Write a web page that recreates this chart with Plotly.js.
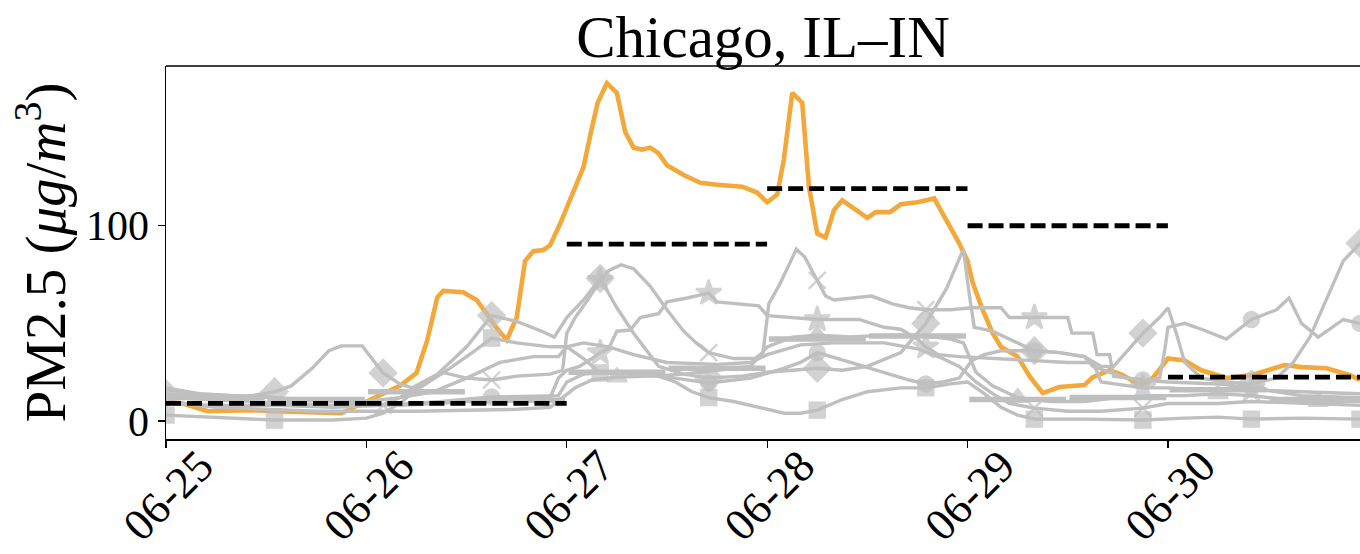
<!DOCTYPE html>
<html>
<head>
<meta charset="utf-8">
<script src="https://cdn.plot.ly/plotly-3.0.1.min.js"></script>
<style>html,body{margin:0;padding:0;overflow:hidden;background:#fff;}#chart{width:1360px;height:554px;}</style>
</head>
<body>
<div id="chart"></div>
<script>
// ---- data (hours since 2023-06-25 00:00, PM2.5 in ug/m3) ----
const dayLabels = ['06-25','06-26','06-27','06-28','06-29','06-30'];
const yTicks = [0, 100];

const chicago = [[0,10],[2,9],[5,5],[8,5.5],[10,5.6],[13,5],[16,4.5],[19,4],[21,4],[24,10],[26,14],[28,18],[30,24.6],[31.3,41.5],[32.5,63.5],[33.2,66.6],[35.6,66],[37.2,62],[38.4,55],[39.6,47.6],[40.8,41.5],[42,53],[43,82],[44,87],[45.2,87.6],[46,90],[47.2,101],[48.7,117],[50,130],[51,150],[51.7,163],[52.8,173],[54,168],[55,148],[56,140],[57,139],[58,140],[59,137],[60,131],[62,126],[64,122],[66,121],[68,120],[69,120],[70.8,117],[72,112],[73.2,116],[74,134],[75,168],[76.2,163],[77,120],[78,96],[79,94],[80,108],[81,113],[82.3,109],[84,104],[85,107],[86.7,107],[88,111],[90,112],[92,114],[93.5,103],[95,91],[96,82],[96.6,71],[97.8,57],[99,45],[100,38],[102,33],[103.5,22.5],[105,14.3],[107,17.4],[110,18.4],[111,22.5],[113,26],[114.6,23.5],[116.6,18.4],[118,21],[120,32],[122,31],[124,26],[127,22],[130,23.5],[134,28.7],[136,27.6],[139,27],[141.8,23.5],[143,21]];

const cityDiamond = [[0,14],[4,12],[9,12],[13,15],[15,18],[17.5,27],[19.5,36],[21,38.5],[23.5,38.5],[24.5,33],[26,24.6],[28,19],[29.5,17],[32.5,24],[36,38],[39,54],[42,51],[45,46],[46.5,43],[48,53],[50,62],[52,73],[54,58],[56,45],[59,28],[62,24],[65,22],[69,23],[72,25],[75,26],[78,27],[81,26],[84,28],[88,35],[91,50],[93.5,68],[95.5,88],[96.2,65],[96.8,48],[99,46],[101,42],[104,36],[107,35],[110,33],[112,28],[113.5,28],[117,45],[119,53],[120,58],[121,45],[122,30],[124,22],[127,20],[130,19],[133,22],[135,30],[137,43],[139,63],[141,82],[143,91]];
const cityX = [[0,12],[5,11],[10,10],[15,9],[20,8],[24,8],[26,8],[28,12],[30,17],[33,25],[36,22],[39,21],[42,23],[46,24],[47.5,26],[48,45],[49,53],[50.5,62],[52,72],[53,77],[54.5,80],[56,78],[58,69],[60,57],[62,46],[63.5,40],[65,35],[68,32],[70.5,32],[71.5,35],[72.2,60],[73.5,70],[75.5,88],[76.5,84],[78,72],[79,64],[80,62],[82,63],[84.5,64],[87,60],[89,58],[91,57],[94,57],[96.5,58],[100,58],[101,53],[104,53],[108,53],[108.5,45],[111,45],[111.5,34],[113,34],[113.5,23],[117,21],[120,20],[126,19],[130,17],[136,13],[143,12]];
const citySquare = [[0,3],[6,2],[13,0.5],[20,0.5],[24,1.5],[26,4],[28,9],[30,16],[34,27],[37,36],[39,42.5],[42,40],[46,38],[48,38],[50,32],[52,24.6],[56,24],[59,23],[61,20],[63,15],[65,12],[68,10],[71,7],[74,4],[76,4],[78,5.6],[81,11],[84,15],[88,17],[91,17],[94,19],[96,20],[98,14],[100,7],[102,3],[104,1],[110,1],[117,0.5],[122,1.5],[126,2],[130,1],[136,1.5],[143,1]];
const cityCircle = [[0,9],[6,8],[13,8],[20,7],[26,8],[33,10],[39,12.3],[44,13],[47,13],[48,20],[50,24],[53,25],[57,24],[61,22],[65,19.5],[70,22],[74,27],[76,30],[78,35],[82,30],[86,25],[89,21],[91,19],[93,20],[95,22],[96.5,31],[98,34],[100,36],[104,36],[107,35],[110,33],[111,28],[113,25],[115,22],[117,21],[119,22],[119.6,36],[120,48],[122,50],[124,47],[127,42],[130,52],[133,57],[134.5,63],[136,50],[138,43],[141,52],[143,50]];
const cityStar = [[0,17],[4,14],[8,13],[12,12],[16,11],[20,10],[24,9],[28,8],[32,9],[36,10],[40,10],[44,11],[46,12],[47,22],[48,26],[49.5,28],[51,32],[52,35],[53,37],[54,46],[55.6,46.6],[56.8,53],[59,55],[60,61],[62.4,63],[65,65.5],[66,61],[71,59],[72,54],[75,53],[78,52],[83,52],[86,48],[88,47],[90,42],[91,38],[92.5,34],[95,33],[100,32],[104,31],[108,30],[111,30],[112,20],[117,17],[120,17],[124,16],[130,16],[136,15],[143,14]];
const cityTriangle = [[0,10],[6,7],[12,6],[18,5],[24,5],[30,5],[36,5.5],[42,6],[46,7],[47.5,12],[49,17],[51,21],[54,22.5],[58,23],[62,24],[66,26],[70,28],[72,38],[75,43],[78,44],[82,43],[86,44],[90,44],[94,42],[95.5,40],[97,25],[99,18],[102,12],[106,10],[110,10],[114,12],[118,13],[122,13],[126,14],[130,13],[134,11],[138,10],[143,10]];
const cityPlus = [[0,16],[3,14],[8,13],[12,12.5],[16,11],[20,10],[24,10],[28,12],[32,15],[36,22],[40,30],[44,33],[47,33],[48,38],[50,40],[53,38],[56,34],[60,30],[66,29],[70,30],[72,34],[76,39],[80,40],[86,40],[90,37],[93,32],[95,28],[97,20],[99,14],[101,9],[104,6.6],[108,5],[112,5],[117,6.6],[120,9],[126,9],[130,10],[136,9],[143,8]];

// marker hours and symbols for each gray series
const diamondMarks = {0:'diamond',13:'diamond',26:'diamond',39:'diamond',52:'diamond',65:'diamond',78:'diamond',91:'diamond',104:'diamond',117:'diamond',130:'diamond',143:'diamond'};
const xMarks = {26:'x-thin',39:'x-thin',52:'star',65:'x-thin',78:'x-thin',91:'x-thin',104:'star'};
const squareMarks = {0:'square',13:'square',39:'square',52:'square',65:'square',78:'square',91:'square',104:'square',117:'square',130:'square',143:'square'};
const circleMarks = {39:'circle',65:'circle',78:'circle',91:'circle',104:'circle',117:'circle',130:'circle',143:'circle'};
const starMarks = {52:'star',65:'star',78:'star',91:'star',117:'star',130:'star'};
const triangleMarks = {54:'triangle-up',78:'triangle-up',102:'triangle-up',126:'triangle-up',138:'triangle-up'};
const plusMarks = {104:'x-thin',117:'x-thin'};

// half-day means of a comparison series (gray bars) and daily reference (black dashed)
const halfDayMeans = [12, 11, 15, 10.7, 25, 27, 42, 43.5, 11, 12, 16, 11];
const dailyReference = [9, 9, 90.6, 119, 100, 22.5];

// ---- build ----
const START = Date.UTC(2023, 5, 25);
const HOUR = 3600000, DAY = 86400000;
const tx = h => START + h * HOUR;
const GRAY = '#bfbfbf';
const ORANGE = '#f4a83a';
const FONT = 'Liberation Serif, Times New Roman, serif';

const traces = [];
traces.push({
  x: chicago.map(p => tx(p[0])), y: chicago.map(p => p[1]),
  mode: 'lines', line: {color: ORANGE, width: 4.6}, hoverinfo: 'skip'
});

const sizes = {'diamond': 20, 'square': 15, 'circle': 15, 'star': 19, 'triangle-up': 17, 'x-thin': 17};
function grayTrace(series, marks) {
  const sz = [], sym = [];
  series.forEach(p => {
    const s = marks[p[0]];
    sym.push(s || 'circle');
    sz.push(s ? sizes[s] : 0);
  });
  return {
    x: series.map(p => tx(p[0])), y: series.map(p => p[1]),
    mode: 'lines+markers', line: {color: GRAY, width: 3.4},
    marker: {color: GRAY, size: sz, symbol: sym, line: {color: GRAY, width: 2.4}},
    hoverinfo: 'skip'
  };
}
[[cityPlus, plusMarks], [cityTriangle, triangleMarks], [cityStar, starMarks], [cityCircle, circleMarks],
 [citySquare, squareMarks], [cityX, xMarks], [cityDiamond, diamondMarks]].forEach(s => traces.push(grayTrace(s[0], s[1])));

// half-day bars
const bx = [], by = [];
halfDayMeans.forEach((v, i) => { bx.push(tx(i * 12 + 0.2), tx(i * 12 + 11.8), null); by.push(v, v, null); });
traces.push({x: bx, y: by, mode: 'lines', line: {color: GRAY, width: 5.5}, hoverinfo: 'skip'});

// daily dashed
const dx = [], dy = [];
dailyReference.forEach((v, i) => { dx.push(tx(i * 24), tx(i * 24 + 23.99), null); dy.push(v, v, null); });
traces.push({x: dx, y: dy, mode: 'lines', line: {color: '#000', width: 4.8, dash: '15px,6px'}, hoverinfo: 'skip'});

const layout = {
  width: 1360, height: 554,
  margin: {l: 166, r: 0, t: 66, b: 115, pad: 0},
  paper_bgcolor: '#fff', plot_bgcolor: '#fff',
  showlegend: false,
  font: {family: FONT, color: '#000'},
  title: {text: 'Chicago, IL–IN', font: {family: FONT, size: 59, color: '#000'},
          x: 0.5, xref: 'paper', xanchor: 'center', y: 1 - 36 / 554, yref: 'container', yanchor: 'middle'},
  xaxis: {
    type: 'date', range: [tx(0), tx(143)],
    tickvals: dayLabels.map((d, i) => START + i * DAY), ticktext: dayLabels,
    tickangle: -45, ticks: 'outside', ticklen: 7, tickwidth: 1.3, tickcolor: '#000',
    ticklabelstandoff: -26, ticklabelshift: 34,
    showline: true, linecolor: '#000', linewidth: 1.5, showgrid: false, zeroline: false,
    tickfont: {family: FONT, size: 45, color: '#000'}
  },
  yaxis: {
    range: [-9.2, 181.8], tickvals: yTicks, ticktext: yTicks.map(String),
    ticks: 'outside', ticklen: 7, tickwidth: 1.3, tickcolor: '#000',
    showline: true, linecolor: '#000', linewidth: 1.5, showgrid: false, zeroline: false,
    tickfont: {family: FONT, size: 42, color: '#000'},
    title: {text: 'PM2.5 (<i>μg</i>/<i>m</i><sup>3</sup>)', font: {family: FONT, size: 57, color: '#000'}, standoff: 2}
  },
  shapes: [{type: 'line', xref: 'paper', yref: 'paper', x0: 0, x1: 1, y0: 1, y1: 1, line: {color: '#000', width: 1.5}}]
};

Plotly.newPlot('chart', traces, layout, {staticPlot: true, displayModeBar: false});
</script>
</body>
</html>
